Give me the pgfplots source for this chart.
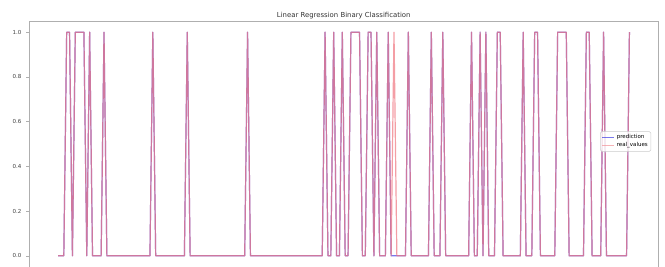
\documentclass[border=0pt]{standalone}
\usepackage{pgfplots}
\pgfplotsset{compat=1.18}
\usepackage{pgfplotstable}
\usepackage{fontspec}
\setmainfont{DejaVu Sans}
\definecolor{predblue}{RGB}{30,30,225}
\definecolor{realpink}{RGB}{240,120,130}
\definecolor{legpink}{RGB}{242,150,155}
\definecolor{spinegray}{RGB}{175,175,175}

\pgfplotstableread[row sep=\\]{
i r p\\
0 0 0\\ 1 0 0\\ 2 0 0\\ 3 1 1\\ 4 1 1\\ 5 0 0\\ 6 1 1\\ 7 1 1\\ 8 1 1\\ 9 1 1\\
10 0 0\\ 11 1 1\\ 12 0 0\\ 13 0 0\\ 14 0 0\\ 15 0 0\\ 16 1 1\\ 17 0 0\\ 18 0 0\\ 19 0 0\\
20 0 0\\ 21 0 0\\ 22 0 0\\ 23 0 0\\ 24 0 0\\ 25 0 0\\ 26 0 0\\ 27 0 0\\ 28 0 0\\ 29 0 0\\
30 0 0\\ 31 0 0\\ 32 0 0\\ 33 1 1\\ 34 0 0\\ 35 0 0\\ 36 0 0\\ 37 0 0\\ 38 0 0\\ 39 0 0\\
40 0 0\\ 41 0 0\\ 42 0 0\\ 43 0 0\\ 44 0 0\\ 45 1 1\\ 46 0 0\\ 47 0 0\\ 48 0 0\\ 49 0 0\\
50 0 0\\ 51 0 0\\ 52 0 0\\ 53 0 0\\ 54 0 0\\ 55 0 0\\ 56 0 0\\ 57 0 0\\ 58 0 0\\ 59 0 0\\
60 0 0\\ 61 0 0\\ 62 0 0\\ 63 0 0\\ 64 0 0\\ 65 0 0\\ 66 1 1\\ 67 0 0\\ 68 0 0\\ 69 0 0\\
70 0 0\\ 71 0 0\\ 72 0 0\\ 73 0 0\\ 74 0 0\\ 75 0 0\\ 76 0 0\\ 77 0 0\\ 78 0 0\\ 79 0 0\\
80 0 0\\ 81 0 0\\ 82 0 0\\ 83 0 0\\ 84 0 0\\ 85 0 0\\ 86 0 0\\ 87 0 0\\ 88 0 0\\ 89 0 0\\
90 0 0\\ 91 0 0\\ 92 0 0\\ 93 1 1\\ 94 0 0\\ 95 0 0\\ 96 1 1\\ 97 0 0\\ 98 0 0\\ 99 1 1\\
100 0 0\\ 101 0 0\\ 102 1 1\\ 103 1 1\\ 104 1 1\\ 105 1 1\\ 106 0 0\\ 107 0 0\\ 108 1 1\\ 109 1 1\\
110 0 0\\ 111 1 1\\ 112 0 0\\ 113 0 0\\ 114 0 0\\ 115 1 1\\ 116 0 0\\ 117 1 0\\ 118 0 0\\ 119 0 0\\
120 0 0\\ 121 0 0\\ 122 1 1\\ 123 0 0\\ 124 0 0\\ 125 0 0\\ 126 0 0\\ 127 0 0\\ 128 0 0\\ 129 0 0\\
130 1 1\\ 131 0 0\\ 132 0 0\\ 133 0 0\\ 134 1 1\\ 135 0 0\\ 136 0 0\\ 137 0 0\\ 138 0 0\\ 139 0 0\\
140 0 0\\ 141 0 0\\ 142 0 0\\ 143 0 0\\ 144 1 1\\ 145 0 0\\ 146 0 0\\ 147 1 1\\ 148 0 0\\ 149 1 1\\
150 0 0\\ 151 0 0\\ 152 0 0\\ 153 1 1\\ 154 1 1\\ 155 0 0\\ 156 0 0\\ 157 0 0\\ 158 0 0\\ 159 0 0\\
160 0 0\\ 161 0 0\\ 162 1 1\\ 163 0 0\\ 164 0 0\\ 165 0 0\\ 166 1 1\\ 167 1 1\\ 168 0 0\\ 169 0 0\\
170 0 0\\ 171 0 0\\ 172 0 0\\ 173 0 0\\ 174 1 1\\ 175 1 1\\ 176 1 1\\ 177 1 1\\ 178 0 0\\ 179 0 0\\
180 0 0\\ 181 0 0\\ 182 0 0\\ 183 0 0\\ 184 1 1\\ 185 1 1\\ 186 0 0\\ 187 0 0\\ 188 0 0\\ 189 0 0\\
190 1 1\\ 191 0 0\\ 192 0 0\\ 193 0 0\\ 194 0 0\\ 195 0 0\\ 196 0 0\\ 197 0 0\\ 198 0 0\\ 199 1 1\\
}\data

\begin{document}
\begin{tikzpicture}
\begin{axis}[
  at={(0,0)}, anchor=south west,
  scale only axis, width=628.5pt, height=246pt,
  xmin=-9.95, xmax=208.95, ymin=-0.05, ymax=1.05,
  xtick=\empty,
  ytick={0,0.2,0.4,0.6,0.8,1.0},
  ytick pos=left,
  tick align=outside,
  major tick length=3pt,
  y tick style={spinegray, line width=0.6pt},
  axis line style={spinegray, line width=0.8pt},
  yticklabel style={font=\fontsize{5.5}{6}\selectfont, text=black!75, xshift=-1.5pt,
    /pgf/number format/.cd, fixed, fixed zerofill, precision=1, assume math mode=true},
  title={Linear Regression Binary Classification},
  title style={font=\fontsize{6.9}{7.5}\selectfont, text=black!80, at={(0.5,1)}, anchor=south, inner sep=1pt, yshift=-5pt},
  legend style={at={(0.989,0.51)}, anchor=east, draw=black!20, fill=white, fill opacity=0.8, text opacity=1,
    rounded corners=1.5pt, font=\fontsize{5.5}{6}\selectfont, inner sep=1pt, row sep=-1.5pt,
    cells={anchor=west}, line width=0.5pt},
]
\addplot[predblue, draw opacity=0.6, line width=1.2pt, line join=round,
  legend image code/.code={\draw[draw=predblue, line width=1.4pt] (0pt,0pt) -- (12pt,0pt);}]
  table[x=i, y=p] {\data};
\addlegendentry{prediction}
\addplot[realpink, draw opacity=0.72, line width=1.2pt, line join=round,
  legend image code/.code={\draw[draw=legpink, line width=1.4pt] (0pt,0pt) -- (12pt,0pt);}]
  table[x=i, y=r] {\data};
\addlegendentry{real\_values}
\end{axis}
\pgfresetboundingbox
\path[use as bounding box] (-29.5pt,1pt) rectangle (635.5pt,267pt);
\end{tikzpicture}
\end{document}
